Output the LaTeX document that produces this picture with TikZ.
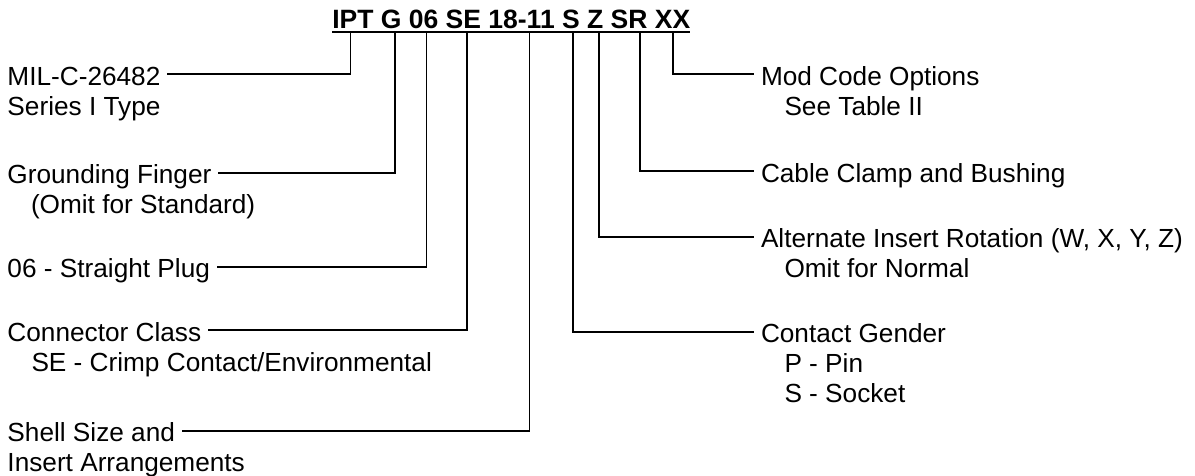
\documentclass[tikz,border=0pt]{standalone}
\usepackage{fontspec}
\setmainfont{Liberation Sans}
\usetikzlibrary{calc}
\begin{document}
\begin{tikzpicture}[x=1pt,y=-1pt,
  lbl/.style={inner sep=0pt, outer xsep=7pt, outer ysep=0pt,
    font=\fontsize{26.2}{30}\selectfont, text height=22pt, text depth=0pt, anchor=west},
  sub/.style={lbl, anchor=base west},
  wire/.style={line width=1.8pt, line join=miter, line cap=butt},
  code/.style={inner sep=0pt, outer sep=0pt, font=\bfseries\fontsize{26.5}{30}\selectfont, anchor=base west}]
\useasboundingbox (0,0) rectangle (1195,475);

% part number
\node[code] (code) at (332.3,28.3) {IPT G 06 SE 18-11 S Z SR XX};
\draw[line width=2pt] ([yshift=-3.4pt]code.base west) -- ([yshift=-3.4pt]code.base east);

% tops of the leader lines
\coordinate (cIPT) at (350.5,31.7);
\coordinate (cG)   at (394.8,31.7);
\coordinate (c06)  at (426.5,31.7);
\coordinate (cSE)  at (467.2,31.7);
\coordinate (cSz)  at (529.5,31.7);
\coordinate (cS)   at (572.7,31.7);
\coordinate (cZ)   at (599.3,31.7);
\coordinate (cSR)  at (640.3,31.7);
\coordinate (cXX)  at (673.3,31.7);

% left labels
\node[lbl] (mil) at (0.5,74) {MIL-C-26482};
\node[sub] (mil2) at ($(mil.base west)+(0,30)$) {Series I Type};
\node[lbl] (gnd) at (0.5,172.7) {Grounding Finger};
\node[sub] (gnd2) at ($(gnd.base west)+(23.5,30)$) {(Omit for Standard)};
\node[lbl] (plug) at (0.5,266.7) {06 - Straight Plug};
\node[lbl] (cls) at (0.5,330) {Connector Class};
\node[sub] (cls2) at ($(cls.base west)+(24,30)$) {SE - Crimp Contact/Environmental};
\node[lbl] (shell) at (0.5,430.7) {Shell Size and};
\node[sub] (shell2) at ($(shell.base west)+(0,30)$) {Insert Arrangements};

% right labels
\node[lbl] (mod) at (754,74.3) {Mod Code Options};
\node[sub] (mod2) at ($(mod.base west)+(23.5,30)$) {See Table II};
\node[lbl] (clamp) at (754,171) {Cable Clamp and Bushing};
\node[lbl] (rot) at (754,236.7) {Alternate Insert Rotation (W, X, Y, Z)};
\node[sub] (rot2) at ($(rot.base west)+(23.5,30)$) {Omit for Normal};
\node[lbl] (gen) at (754,331.7) {Contact Gender};
\node[sub] (gen2) at ($(gen.base west)+(23.5,30)$) {P - Pin};
\node[sub] (gen3) at ($(gen.base west)+(23.5,60)$) {S - Socket};

% leader lines
\draw[wire] (cIPT) |- (mil.east);
\draw[wire] (cG)   |- (gnd.east);
\draw[wire] (c06)  |- (plug.east);
\draw[wire] (cSE)  |- (cls.east);
\draw[wire] (cSz)  |- (shell.east);
\draw[wire] (cS)   |- (gen.west);
\draw[wire] (cZ)   |- (rot.west);
\draw[wire] (cSR)  |- (clamp.west);
\draw[wire] (cXX)  |- (mod.west);
\end{tikzpicture}
\end{document}
